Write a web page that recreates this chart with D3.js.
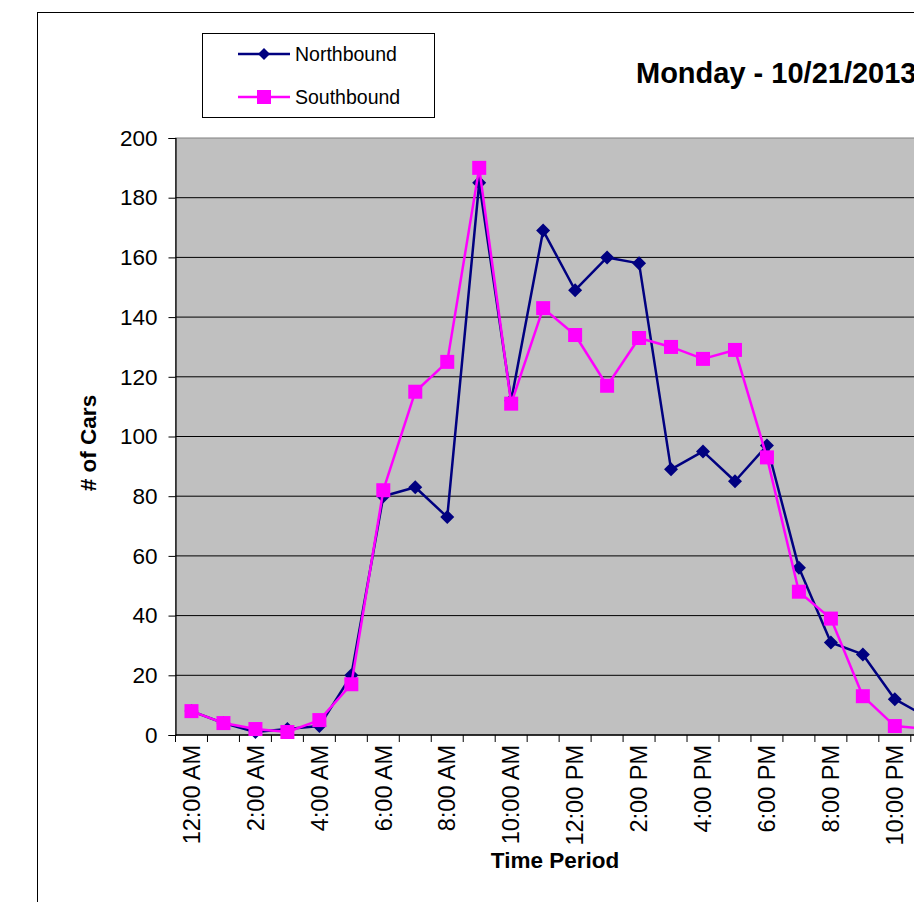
<!DOCTYPE html>
<html>
<head>
<meta charset="utf-8">
<script src="https://cdn.jsdelivr.net/npm/d3@7"></script>
<style>
  html, body { margin: 0; padding: 0; background: #fff; }
  svg { display: block; }
  text { font-family: Arial, "Liberation Sans", sans-serif; }
</style>
</head>
<body>
<svg id="chart" width="914" height="902"></svg>
<script>
const hours = ["12:00 AM","1:00 AM","2:00 AM","3:00 AM","4:00 AM","5:00 AM","6:00 AM","7:00 AM","8:00 AM","9:00 AM","10:00 AM","11:00 AM",
               "12:00 PM","1:00 PM","2:00 PM","3:00 PM","4:00 PM","5:00 PM","6:00 PM","7:00 PM","8:00 PM","9:00 PM","10:00 PM","11:00 PM"];
const northbound = [8, 4, 1, 2, 3, 20, 80, 83, 73, 185, 112, 169, 149, 160, 158, 89, 95, 85, 97, 56, 31, 27, 12, 6];
const southbound = [8, 4, 2, 1, 5, 17, 82, 115, 125, 190, 111, 143, 134, 117, 133, 130, 126, 129, 93, 48, 39, 13, 3, 2];
const yTicks = [0, 20, 40, 60, 80, 100, 120, 140, 160, 180, 200];
const xLabelEvery = 2;
const title = "Monday - 10/21/2013";
const yTitle = "# of Cars";
const xTitle = "Time Period";
const seriesNames = ["Northbound", "Southbound"];

const svg = d3.select("#chart");

// outer chart frame
svg.append("rect").attr("x", 37.5).attr("y", 12.5).attr("width", 1000).attr("height", 1000)
  .attr("fill", "#fff").attr("stroke", "#000").attr("stroke-width", 1);

const pLeft = 175.5, pTop = 138, pBottom = 735;
const band = 31.97;
const pWidth = band * hours.length;
const x = d3.scaleBand().domain(hours).range([pLeft, pLeft + pWidth]).paddingInner(0).paddingOuter(0);
const y = d3.scaleLinear().domain([0, 200]).range([pBottom, pTop]);

// plot area
svg.append("rect").attr("x", pLeft).attr("y", pTop).attr("width", pWidth).attr("height", pBottom - pTop)
  .attr("fill", "#C0C0C0").attr("stroke", "#808080").attr("stroke-width", 1);

// gridlines
svg.append("g").selectAll("line").data(yTicks.filter(d => d > 0 && d < 200)).join("line")
  .attr("x1", pLeft).attr("x2", pLeft + pWidth)
  .attr("y1", d => y(d)).attr("y2", d => y(d))
  .attr("stroke", "#000").attr("stroke-width", 1);

// y axis
const yAxis = d3.axisLeft(y).tickValues(yTicks).tickSize(7).tickPadding(11).tickFormat(d3.format("d"));
const gy = svg.append("g").attr("transform", `translate(${pLeft},0)`).call(yAxis);
gy.select(".domain").attr("stroke", "#000").attr("stroke-width", 1.2);
gy.selectAll(".tick line").attr("stroke", "#000");
gy.selectAll(".tick text").attr("font-size", "22.5px").attr("font-family", "Arial, 'Liberation Sans', sans-serif").attr("fill", "#000");

// x axis: ticks at band boundaries
const gx = svg.append("g");
gx.append("line").attr("x1", pLeft).attr("x2", pLeft + pWidth).attr("y1", pBottom).attr("y2", pBottom)
  .attr("stroke", "#000").attr("stroke-width", 1.5);
gx.selectAll("line.tk").data(d3.range(hours.length + 1)).join("line").attr("class", "tk")
  .attr("x1", i => pLeft + i * x.bandwidth()).attr("x2", i => pLeft + i * x.bandwidth())
  .attr("y1", pBottom).attr("y2", pBottom + 7).attr("stroke", "#000").attr("stroke-width", 1);
gx.selectAll("text").data(hours.filter((h, i) => i % xLabelEvery === 0)).join("text")
  .attr("transform", d => `translate(${x(d) + x.bandwidth() / 2},745) rotate(-90)`)
  .attr("text-anchor", "end").attr("dy", "0.35em")
  .attr("font-size", "23.5px").attr("fill", "#000").text(d => d);

// lines
const line = d3.line().x((d, i) => x(hours[i]) + x.bandwidth() / 2).y(d => y(d));
const colors = ["#000080", "#FF00FF"];

svg.append("path").datum(northbound).attr("d", line).attr("fill", "none")
  .attr("stroke", colors[0]).attr("stroke-width", 2.5).attr("stroke-linejoin", "round");
const diamond = s => `M0,${-s}L${s},0L0,${s}L${-s},0Z`;
svg.append("g").selectAll("path").data(northbound).join("path")
  .attr("transform", (d, i) => `translate(${x(hours[i]) + x.bandwidth() / 2},${y(d)})`)
  .attr("d", diamond(7)).attr("fill", colors[0]);

svg.append("path").datum(southbound).attr("d", line).attr("fill", "none")
  .attr("stroke", colors[1]).attr("stroke-width", 2.5).attr("stroke-linejoin", "round");
svg.append("g").selectAll("rect").data(southbound).join("rect")
  .attr("x", (d, i) => x(hours[i]) + x.bandwidth() / 2 - 7).attr("y", d => y(d) - 7)
  .attr("width", 14).attr("height", 14).attr("fill", colors[1]);

// axis titles
svg.append("text").attr("transform", "translate(96,443) rotate(-90)").attr("text-anchor", "middle")
  .attr("font-size", "22.5px").attr("font-weight", "bold").text(yTitle);
svg.append("text").attr("x", 555).attr("y", 868).attr("text-anchor", "middle")
  .attr("font-size", "22.5px").attr("font-weight", "bold").text(xTitle);

// title
svg.append("text").attr("x", 636).attr("y", 83).attr("font-size", "29px").attr("font-weight", "bold").text(title);

// legend
const lg = svg.append("g");
lg.append("rect").attr("x", 202.5).attr("y", 33.5).attr("width", 232).attr("height", 84)
  .attr("fill", "#fff").attr("stroke", "#000").attr("stroke-width", 1);
const ly = [54, 97];
seriesNames.forEach((name, i) => {
  lg.append("line").attr("x1", 238).attr("x2", 290).attr("y1", ly[i]).attr("y2", ly[i])
    .attr("stroke", colors[i]).attr("stroke-width", 2.5);
  if (i === 0) {
    lg.append("path").attr("transform", `translate(264,${ly[i]})`).attr("d", diamond(6)).attr("fill", colors[0]);
  } else {
    lg.append("rect").attr("x", 257).attr("y", ly[i] - 7).attr("width", 14).attr("height", 14).attr("fill", colors[1]);
  }
  lg.append("text").attr("x", 295).attr("y", ly[i]).attr("dy", "0.36em")
    .attr("font-size", "19.5px").attr("fill", "#000").text(name);
});
</script>
</body>
</html>
